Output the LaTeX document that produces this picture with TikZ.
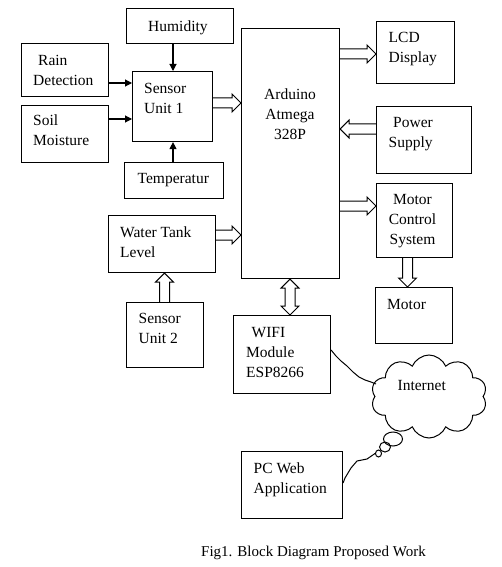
\documentclass[tikz,border=0pt]{standalone}
\usepackage{fontspec}
\setmainfont{Liberation Serif}
\usetikzlibrary{calc,arrows.meta,shapes.symbols,shapes.geometric}
\tikzset{
  box/.style={draw, rectangle, inner sep=0pt, anchor=north west, line width=1.1pt},
  txt/.style={inner sep=0pt, anchor=north west, align=left, font=\fontsize{15.5}{20}\selectfont},
  harrow/.style={draw, line width=1pt, line join=miter},
  sarrow/.style={draw, line width=1.1pt, -{Triangle[length=7pt,width=7pt]}},
  conn/.style={draw, line width=1pt},
  bubble/.style={draw, ellipse, inner sep=0pt, line width=1pt}
}
\newcommand\blkarrow[2]{%
  \coordinate (ba-a) at (#1);
  \coordinate (ba-b) at (#2);
  \coordinate (ba-c) at ($(ba-b)!9pt!(ba-a)$);
  \draw[harrow] ($(ba-a)!5pt!90:(ba-b)$) -- ($(ba-c)!5pt!-90:(ba-a)$) -- ($(ba-c)!9pt!-90:(ba-a)$) -- (ba-b) -- ($(ba-c)!9pt!90:(ba-a)$) -- ($(ba-c)!5pt!90:(ba-a)$) -- ($(ba-a)!5pt!-90:(ba-b)$);
}
\newcommand\blkarrowboth[2]{%
  \coordinate (ba-a) at (#1);
  \coordinate (ba-b) at (#2);
  \coordinate (ba-c) at ($(ba-b)!9pt!(ba-a)$);
  \coordinate (ba-d) at ($(ba-a)!9pt!(ba-b)$);
  \draw[harrow] (ba-a) -- ($(ba-d)!9pt!90:(ba-b)$) -- ($(ba-d)!5pt!90:(ba-b)$) -- ($(ba-c)!5pt!-90:(ba-a)$) -- ($(ba-c)!9pt!-90:(ba-a)$) -- (ba-b) -- ($(ba-c)!9pt!90:(ba-a)$) -- ($(ba-c)!5pt!90:(ba-a)$) -- ($(ba-d)!5pt!-90:(ba-b)$) -- ($(ba-d)!9pt!-90:(ba-b)$) -- cycle;
}
\begin{document}
\begin{tikzpicture}[x=1pt,y=-1pt]
\useasboundingbox[fill=white] (0,0) rectangle (501,567);
% boxes
\node[box, minimum width=107pt, minimum height=35pt] (hum) at (126,8) {};
\node[box, minimum width=87pt, minimum height=53pt] (rain) at (21,43) {};
\node[box, minimum width=80pt, minimum height=70pt] (s1) at (132,71) {};
\node[box, minimum width=87pt, minimum height=57pt] (soil) at (21,105) {};
\node[box, minimum width=99pt, minimum height=36pt] (temp) at (124,162) {};
\node[box, minimum width=107pt, minimum height=57pt] (wt) at (108,215) {};
\node[box, minimum width=98pt, minimum height=250pt] (ard) at (241,28) {};
\node[box, minimum width=78pt, minimum height=62pt] (lcd) at (376,21) {};
\node[box, minimum width=95pt, minimum height=67pt] (pow) at (376,106) {};
\node[box, minimum width=76pt, minimum height=74pt] (mcs) at (376,183) {};
\node[box, minimum width=77pt, minimum height=56pt] (mot) at (375,287) {};
\node[box, minimum width=97pt, minimum height=78pt] (wifi) at (233,315) {};
\node[box, minimum width=101pt, minimum height=67pt] (pc) at (241,451) {};
\node[box, minimum width=77pt, minimum height=65pt] (su2) at (126,302) {};
% texts
\node[txt] (thum) at (148,21) {Humidity};
\node[txt] (train) at (33,55) {\hspace*{5pt}Rain\\Detection};
\node[txt] (ts1) at (144,83.5) {Sensor\\Unit 1};
\node[txt] (tsoil) at (33,115) {Soil\\Moisture};
\node[txt] (ttemp) at (137.5,173.5) {Temperatur};
\node[txt] (twt) at (120,227) {Water Tank\\Level};
\node[txt, anchor=north, align=center] (tard) at (290,88.5) {Arduino\\Atmega\\328P};
\node[txt] (tlcd) at (388.5,32.5) {LCD\\Display};
\node[txt] (tpow) at (388.5,117) {\hspace*{4.5pt}Power\\Supply};
\node[txt, anchor=north, align=center] (tmcs) at (412.5,194) {Motor\\Control\\System};
\node[txt] (tmot) at (387,299.5) {Motor};
\node[txt] (twifi) at (246,327.5) {\hspace*{5.5pt}WIFI\\Module\\ESP8266};
\node[txt] (tpc) at (253.5,462.5) {PC Web\\Application};
\node[txt] (tsu2) at (138.5,313.5) {Sensor\\Unit 2};
% solid arrows
\draw[sarrow] (hum.south -| 173,0) -- (s1.north -| 173,0);
\draw[sarrow] (rain.east |- 0,83) -- (s1.west |- 0,83);
\draw[sarrow] (soil.east |- 0,119) -- (s1.west |- 0,119);
\draw[sarrow] (temp.north -| 173,0) -- (s1.south -| 173,0);
% hollow block arrows
\blkarrow{s1.east |- 0,103}{ard.west |- 0,103}
\blkarrow{wt.east |- 0,235}{ard.west |- 0,235}
\blkarrow{ard.east |- 0,54}{lcd.west |- 0,54}
\blkarrow{pow.west |- 0,129}{ard.east |- 0,129}
\blkarrow{ard.east |- 0,206}{mcs.west |- 0,206}
\blkarrow{mcs.south -| 407.5,0}{mot.north -| 407.5,0}
\blkarrow{su2.north -| 164.5,0}{wt.south -| 164.5,0}
\blkarrowboth{ard.south -| 290,0}{wifi.north -| 290,0}
% thought bubbles and cloud
\node[bubble, minimum width=19pt, minimum height=14pt] (b1) at (393,439) {};
\node[bubble, minimum width=11pt, minimum height=10pt] (b2) at (385,447) {};
\node[bubble, minimum width=6pt, minimum height=7pt] (b3) at (378.5,453.5) {};
\node[cloud, draw, fill=white, line width=1pt, cloud puffs=10, cloud puff arc=135, aspect=1.4, minimum width=116pt, minimum height=83pt, inner sep=0pt] (cloud) at (429,396.5) {};
\node[txt, anchor=north] (tinet) at (421.7,380) {Internet};
\coordinate (cin) at (376,384);
% wavy connectors
\draw[conn] (wifi.east |- 0,350) -- (336,356) -- (341,361) -- (347,366) -- (353,372) -- (359,377) -- (365,380) -- (371,382) -- (cin);
\draw[conn] (pc.east |- 0,483) -- (345,478) -- (351,468) -- (357,461) -- (367,459) -- (b3.west);
% caption
\node[inner sep=0pt, anchor=base west, font=\fontsize{15}{18}\selectfont] (cap) at (201,556) {Fig1. Block Diagram Proposed Work};
\end{tikzpicture}
\end{document}
